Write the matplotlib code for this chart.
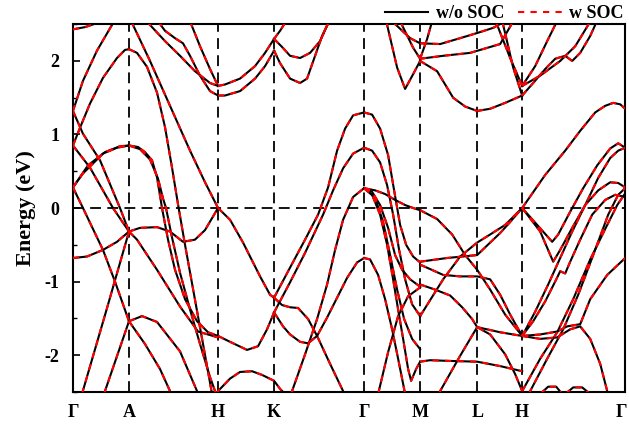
import matplotlib
matplotlib.use("Agg")
import matplotlib.pyplot as plt
import matplotlib.transforms as mtransforms
from matplotlib.lines import Line2D
from matplotlib.ticker import MultipleLocator

plt.rcParams['font.family'] = ['Liberation Serif', 'DejaVu Serif']
plt.rcParams['font.weight'] = 'bold'
plt.rcParams['axes.unicode_minus'] = False

# k-path (path length, arbitrary units) and labels
kpts = [0, 56, 145, 201, 291, 347, 404, 449, 552]
klabels = ["Γ", "A", "H", "K", "Γ", "M", "L", "H", "Γ"]

# band pieces: (k, energy in eV)
bands_GA = [
    ([0, 12, 25], [2.43, 2.46, 2.52]),
    ([0, 10, 24, 39, 42], [1.32, 1.73, 2.14, 2.49, 2.57]),
    ([0, 7, 17, 30, 44, 52, 56], [0.85, 1.09, 1.42, 1.77, 2.04, 2.15, 2.16]),
    ([0, 10, 27, 47, 56], [1.32, 1.01, 0.65, 0.0, -0.32]),
    ([0, 17, 40, 56], [0.85, 0.55, 0.0, -0.32]),
    ([0, 10, 30, 44, 56], [0.28, 0.47, 0.74, 0.82, 0.85]),
    ([0, 15, 32, 47, 56], [0.28, 0.58, 0.76, 0.84, 0.85]),
    ([0, 10, 30, 42, 56], [0.28, 0.0, -0.57, -1.0, -1.54]),
    ([0, 14, 30, 44, 56], [-0.68, -0.66, -0.57, -0.46, -0.32]),
    ([9, 33, 56], [-2.53, -1.41, -0.32]),
    ([31, 56], [-2.53, -1.54]),
]

bands_AH = [
    ([56, 65, 72, 79, 84, 89, 95, 102, 112, 124, 135, 145],
     [0.85, 0.83, 0.76, 0.65, 0.42, 0.0, -0.43, -0.84, -1.24, -1.54, -1.69, -1.74]),
    ([56, 67, 77, 85, 90, 93, 99, 107, 117, 127, 137, 142, 143],
     [0.85, 0.80, 0.66, 0.40, 0.13, 0.0, -0.40, -0.88, -1.38, -1.85, -2.30, -2.49, -2.53]),
    ([56, 64, 74, 84, 92, 99, 105, 112, 120, 128, 136, 139],
     [2.16, 2.11, 1.92, 1.57, 1.10, 0.55, 0.05, -0.50, -1.10, -1.70, -2.30, -2.53]),
    ([58, 60, 77, 97, 117, 132, 145], [2.54, 2.49, 2.00, 1.39, 0.78, 0.35, 0.0]),
    ([56, 64, 84, 107, 125, 145], [-0.32, -0.43, -0.84, -1.34, -1.68, -1.76]),
    ([56, 67, 84, 97, 110, 122, 132, 145], [-0.32, -0.27, -0.26, -0.32, -0.46, -0.43, -0.30, 0.0]),
    ([56, 69, 84, 107, 124, 125], [-1.54, -1.47, -1.55, -1.95, -2.49, -2.53]),
    ([56, 72, 87, 97, 98], [-1.54, -1.85, -2.19, -2.49, -2.53]),
    ([74, 77, 92, 107, 122, 137, 145], [2.54, 2.49, 2.27, 2.07, 1.86, 1.70, 1.66]),
    ([85, 92, 102, 110, 117, 127, 137, 145], [2.54, 2.41, 2.31, 2.24, 2.07, 1.80, 1.59, 1.53]),
    ([117, 127, 137, 145], [2.54, 2.20, 1.89, 1.66]),
]

bands_HK = [
    ([145, 152, 167, 182, 192, 201], [1.66, 1.68, 1.76, 1.93, 2.11, 2.30]),
    ([145, 152, 167, 182, 192, 201], [1.53, 1.53, 1.59, 1.76, 1.93, 2.14]),
    ([145, 157, 170, 187, 197, 201], [0.0, -0.16, -0.47, -0.93, -1.18, -1.22]),
    ([145, 157, 174, 185, 194, 201], [-1.74, -1.82, -1.93, -1.88, -1.65, -1.42]),
    ([143, 145, 157, 167, 179, 189, 201, 207, 212],
     [-2.53, -2.49, -2.32, -2.23, -2.22, -2.27, -2.35, -2.46, -2.53]),
]

bands_KG = [
    ([201, 207, 213], [2.30, 2.41, 2.54]),
    ([201, 209, 217, 227, 237, 247, 256], [2.30, 2.19, 2.07, 2.04, 2.11, 2.27, 2.54]),
    ([201, 207, 217, 227, 234, 242, 249, 256], [2.14, 1.97, 1.76, 1.70, 1.76, 2.07, 2.34, 2.54]),
    ([201, 217, 232, 245, 255, 264, 272, 280, 291],
     [-1.22, -0.81, -0.43, -0.09, 0.28, 0.78, 1.08, 1.26, 1.30]),
    ([201, 217, 232, 250, 260, 270, 280, 291], [-1.42, -1.01, -0.61, -0.09, 0.24, 0.54, 0.74, 0.82]),
    ([218, 219, 232, 244, 254, 262, 270, 280, 291],
     [-2.53, -2.49, -1.99, -1.51, -1.04, -0.57, -0.16, 0.15, 0.27]),
    ([201, 209, 217, 225, 235, 244, 257, 270, 271],
     [-1.22, -1.32, -1.35, -1.36, -1.51, -1.74, -2.12, -2.49, -2.53]),
    ([201, 210, 217, 227, 235, 244, 254, 264, 274, 284, 291],
     [-1.42, -1.61, -1.72, -1.82, -1.84, -1.74, -1.49, -1.22, -0.95, -0.74, -0.68]),
]

bands_GM = [
    ([313, 314, 324, 332, 340, 347], [2.54, 2.49, 1.91, 1.62, 1.82, 2.00]),
    ([319, 337, 347], [2.54, 2.31, 2.24]),
    ([327, 340, 347], [2.54, 2.18, 2.03]),
    ([291, 299, 307, 315, 321, 327, 333, 340, 347],
     [1.30, 1.27, 1.08, 0.72, 0.24, -0.23, -0.50, -0.66, -0.74]),
    ([291, 299, 307, 314, 320, 326, 332, 339, 347],
     [0.82, 0.78, 0.62, 0.31, -0.09, -0.57, -0.97, -1.31, -1.47]),
    ([291, 302, 312, 322, 332, 340, 347], [0.27, 0.24, 0.19, 0.11, 0.04, 0.0, -0.03]),
    ([291, 299, 307, 315, 322, 329, 337, 347], [0.27, 0.22, 0.04, -0.27, -0.64, -0.84, -0.97, -1.07]),
    ([291, 299, 307, 314, 320, 325, 330, 335, 338, 343, 347],
     [0.27, 0.18, -0.09, -0.50, -0.97, -1.38, -1.78, -2.19, -2.35, -2.19, -2.09]),
    ([291, 297, 305, 312, 319, 325, 331, 332], [-0.68, -0.70, -0.91, -1.24, -1.65, -2.05, -2.46, -2.53]),
    ([305, 315, 325, 335, 347], [-2.53, -1.96, -1.47, -1.20, -1.08]),
    ([291, 302, 310, 317, 324, 331, 339, 347], [0.27, 0.14, -0.19, -0.64, -1.11, -1.51, -1.78, -1.92]),
]

bands_MLH = [
    ([347, 367, 387, 404, 420, 432], [2.24, 2.23, 2.31, 2.38, 2.45, 2.54]),
    ([347, 370, 397, 427, 440], [2.03, 2.07, 2.11, 2.23, 2.54]),
    ([347, 364, 380, 392, 404], [2.00, 1.86, 1.50, 1.38, 1.32]),
    ([347, 354, 359], [2.03, 2.30, 2.54]),
    ([404, 417, 432, 449], [1.32, 1.35, 1.43, 1.53]),
    ([423, 424, 437, 449], [2.54, 2.49, 2.04, 1.66]),
    ([429, 430, 440, 449], [2.54, 2.49, 1.91, 1.53]),
    ([347, 364, 379, 392, 404, 417, 432, 449], [-0.03, -0.15, -0.36, -0.64, -0.84, -1.11, -1.45, -1.74]),
    ([347, 374, 404, 417, 427, 437, 449], [-0.73, -0.68, -0.64, -0.47, -0.34, -0.19, 0.0]),
    ([347, 370, 387, 404, 417, 427, 437, 449], [-0.77, -0.91, -0.93, -0.93, -0.97, -1.18, -1.45, -1.74]),
    ([347, 370, 387, 404, 417, 432, 449], [-1.47, -0.97, -0.66, -0.47, -0.36, -0.23, 0.0]),
    ([347, 362, 377, 389, 399, 404, 417, 432, 442, 449],
     [-1.04, -1.11, -1.19, -1.35, -1.51, -1.62, -1.72, -1.99, -2.26, -2.49]),
    ([347, 357, 377, 404, 427, 449], [-2.09, -2.07, -2.08, -2.09, -2.15, -2.22]),
    ([366, 367, 387, 404, 427, 449], [-2.53, -2.49, -2.01, -1.62, -1.69, -1.74]),
]

bands_HG = [
    ([449, 462, 474, 482, 484], [1.66, 1.93, 2.27, 2.49, 2.54]),
    ([449, 460, 472, 482, 492, 499, 507, 517, 522, 524],
     [1.53, 1.70, 1.89, 2.03, 2.07, 2.00, 2.11, 2.34, 2.49, 2.54]),
    ([449, 467, 487, 502, 515, 517], [1.66, 1.80, 2.00, 2.20, 2.49, 2.54]),
    ([449, 472, 492, 507, 522, 532, 540, 547, 552], [0.0, 0.45, 0.78, 1.05, 1.30, 1.39, 1.43, 1.41, 1.35]),
    ([449, 464, 479, 485, 497, 510, 524, 537, 545, 552],
     [0.0, -0.23, -0.46, -0.36, -0.05, 0.27, 0.58, 0.81, 0.88, 0.82]),
    ([449, 467, 480, 487, 499, 512, 525, 537, 545, 552],
     [0.0, -0.32, -0.73, -0.57, -0.27, 0.04, 0.24, 0.35, 0.34, 0.28]),
    ([449, 460, 472, 482, 487, 492, 497, 507, 519, 532, 542, 552],
     [-1.74, -1.54, -1.27, -1.00, -0.86, -0.89, -0.73, -0.43, -0.09, 0.11, 0.18, 0.15]),
    ([449, 467, 484, 494, 507, 517, 534, 552], [-1.74, -1.72, -1.68, -1.61, -1.58, -1.24, -0.91, -0.68]),
    ([449, 467, 484, 497, 507, 517, 527, 534, 535],
     [-1.74, -1.78, -1.76, -1.65, -1.61, -1.78, -2.12, -2.49, -2.53]),
    ([449, 467, 484, 500, 517, 534, 544, 552], [-2.49, -2.05, -1.69, -1.24, -0.70, -0.23, 0.04, 0.20]),
    ([456, 457, 474, 490, 505, 520, 535, 545, 552], [-2.53, -2.49, -2.05, -1.65, -1.18, -0.64, -0.09, 0.18, 0.27]),
    ([449, 462, 475, 487, 499, 512, 525, 537, 545, 552],
     [-1.74, -1.41, -1.04, -0.68, -0.32, 0.04, 0.41, 0.68, 0.78, 0.82]),
    ([467, 475, 483, 489], [-2.53, -2.43, -2.43, -2.53]),
    ([492, 500, 509, 517], [-2.53, -2.44, -2.44, -2.53]),
]

all_bands = bands_GA + bands_AH + bands_HK + bands_KG + bands_GM + bands_MLH + bands_HG

fig = plt.figure(figsize=(6.29, 4.32), dpi=100)
ax = fig.add_axes([0.116, 0.093, 0.878, 0.851])

for k in kpts[1:-1]:
    ax.axvline(k, color='black', lw=1.3, ls=(0, (6, 3.5)), zorder=1)
ax.axhline(0, color='black', lw=1.3, ls=(0, (6, 3.5)), zorder=1)

for k, e in all_bands:
    ax.plot(k, e, color='black', lw=1.5, zorder=3)
for k, e in all_bands:
    ax.plot(k, e, color='red', lw=1.5, ls=(0, (3, 3)), zorder=4)

ax.set_xlim(kpts[0], kpts[-1])
ax.set_ylim(-2.5, 2.5)
ax.set_xticks(kpts)
ax.set_xticklabels(klabels, fontsize=13, fontweight='bold')
ax.tick_params(axis='x', length=0, pad=9)
# keep the last Γ inside the canvas
last = ax.get_xticklabels()[-1]
last.set_transform(last.get_transform() +
                   mtransforms.ScaledTranslation(-4 / 100, 0, fig.dpi_scale_trans))

ax.yaxis.set_minor_locator(MultipleLocator(0.5))
ax.set_yticks([-2, -1, 0, 1, 2])
ax.set_yticklabels(['-2', '-1', '0', '1', '2'], fontsize=13, fontweight='bold')
ax.tick_params(axis='y', which='major', direction='in', length=5, width=1.2, pad=10)
ax.tick_params(axis='y', which='minor', direction='in', length=3, width=1.0)
ax.set_ylabel('Energy (eV)', fontsize=16, fontweight='bold', labelpad=6)
for s in ax.spines.values():
    s.set_linewidth(1.5)

handles = [Line2D([], [], color='black', lw=1.5),
           Line2D([], [], color='red', lw=1.5, ls=(0, (3, 3)))]
ax.legend(handles, ['w/o SOC', 'w SOC'], loc='lower right', bbox_to_anchor=(1.01, 0.985),
          ncol=2, frameon=False, handlelength=2.4, columnspacing=0.8, handletextpad=0.4,
          borderaxespad=0, prop={'size': 13, 'weight': 'bold'})

fig.savefig('out.png', dpi=100)
